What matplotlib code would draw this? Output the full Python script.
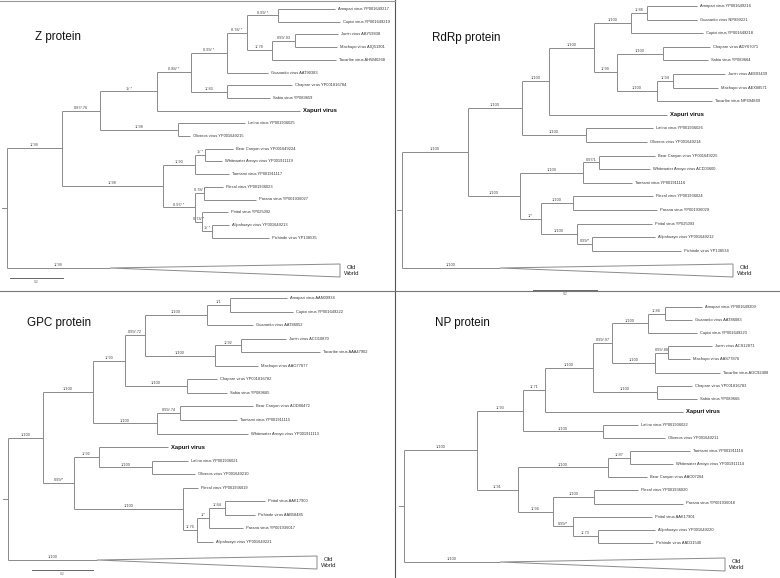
import matplotlib
matplotlib.use("Agg")
import matplotlib.pyplot as plt
from matplotlib.patches import Polygon

plt.rcParams['font.family'] = ['Liberation Sans', 'DejaVu Sans']

# trees in newick, branch lengths (pixel units)
z_newick = ("(((((((('Amapari virus YP001649217':57,'Cupixi virus YP001649219':62)'0.99/ *':31,"
            "(('Junin virus ABY59838':43,'Machupo virus AIQ51901':42)'0.99/.93':23,'Tacaribe virus AHW40268':64)'1/.78':25)'0.78/ *':20,"
            "'Guanarito virus AAT90383':41)'0.99/ *':36,"
            "('Chapare virus YP001816784':65,'Sabia virus YP089659':43)'1/.83':36)'0.88/ *':34,"
            "'Xapuri virus':143)'1/ *':57,"
            "('Latino virus YP001936025':67,'Oliveros virus YP001649215':12)'1/.98':78)'0.87/.76':38,"
            "((('Bear Canyon virus YP001649224':28,'Whitewater Arroyo virus YP001911119':17)'1/ *':10,'Tamiami virus YP001911117':34)'1/.90':32,"
            "(('Flexal virus YP001936023':19,'Parana virus YP001936027':52)'0.78/ *':9,"
            "('Pirital virus YP025092':26,('Allpahuayo virus YP001649213':17,'Pichinde virus YP138535':57)'1/ *':10)'0.73/ *':7)'0.97/ *':32)'1/.98':101)'1/.99':55,"
            "'Old World':103);")

rdrp_newick = ("((((((('Amapari virus YP001649216':50,'Guanarito virus NP899221':50)'1/.88':16,'Cupixi virus YP001649218':72)'1/100':37,"
               "(('Chapare virus ADY67071':47,'Sabia virus YP089664':45)'1/100':46,"
               "(('Junin virus AEE03439':52,'Machupo virus AEX08571':45)'1/.94':16,'Tacaribe virus NP694849':55)'1/100':40)'1/.99':23)'1/100':45,"
               "'Xapuri virus':118)'1/100':27,"
               "('Latino virus YP001936026':67,'Oliveros virus YP001649214':61)'1/100':64)'1/100':54,"
               "((('Bear Canyon virus YP001649225':56,'Whitewater Arroyo virus ACD03600':51)'0.97/1':16,'Tamiami virus YP001911116':49)'1/100':63,"
               "(('Flexal virus YP001936024':80,'Parana virus YP001936029':84)'1/100':32,"
               "('Pirital virus YP025093':75,('Allpahuayo virus YP001649212':63,'Pichinde virus YP138534':89)'0.99/*':15)'1/100':36)'1/*':21)'1/100':52)'1/100':66,"
               "'Old World':98);")

gpc_newick = ("((((((('Amapari virus AAN09934':57,'Cupixi virus YP001649222':63)'1/1':23,'Guanarito virus AAT86052':46)'1/100':62,"
              "(('Junin virus ACO10870':45,'Tacaribe virus AAA47902':79)'1/.92':26,'Machupo virus AAO77877':43)'1/100':70)'0.99/.72':20,"
              "('Chapare virus YP001816782':30,'Sabia virus YP089665':40)'1/100':62)'1/.93':32,"
              "(('Bear Canyon virus AOD88472':73,'Tamiami virus YP001911115':57)'0.99/.74':23,'Whitewater Arroyo virus YP001911113':91)'1/100':64)'1/100':50,"
              "(('Xapuri virus':69,('Latino virus YP001936021':36,'Oliveros virus YP001649210':43)'1/100':53)'1/.92':25,"
              "('Flexal virus YP001936019':15,((('Pirital virus AAK17900':40,'Pichinde virus AAB58485':30)'1/.84':16,"
              "'Parana virus YP001936017':34)'1/*':12,'Allpahuayo virus YP001649221':16)'1/.76':14)'1/100':109)'0.99/*':31)'1/100':35,"
              "'Old World':89);")

np_newick = ("(((((((('Amapari virus YP001649209':37,'Guanarito virus AAT86083':27)'1/.86':17,'Cupixi virus YP001649223':49)'1/100':36,"
             "(('Junin virus ACS12871':44,'Machupo virus AAS77876':22)'0.99/.88':13,'Tacaribe virus AGC92408':65)'1/100':43)'0.99/.97':19,"
             "('Chapare virus YP001816783':35,'Sabia virus YP089666':40)'1/100':64)'1/100':48,"
             "'Xapuri virus':138)'1/.71':22,"
             "('Latino virus YP001936022':35,'Oliveros virus YP001649211':62)'1/100':80)'1/.93':46,"
             "((('Tamiami virus YP001911116':60,'Whitewater Arroyo virus YP001911114':43)'1/.87':22,'Bear Canyon virus AAO07264':39)'1/100':90,"
             "(('Flexal virus YP001936020':44,'Parana virus YP001936018':89)'1/100':41,"
             "('Pirital virus AAK17901':79,('Allpahuayo virus YP001649220':57,'Pichinde virus AAD31540':55)'1/.73':25)'0.99/*':20)'1/.96':35)'1/.91':41)'1/100':73,"
             "'Old World':96);")

# collapsed Old World clade: support on stem, depth of triangle
z_old_world = ["1/.99", 230]
rdrp_old_world = ["1/100", 233]
gpc_old_world = ["1/100", 220]
np_old_world = ["1/100", 225]

# scale bars: length, label
z_scale = [53, "0.2"]
rdrp_scale = [64, "0.2"]
gpc_scale = [61, "0.2"]

titles = ["Z protein", "RdRp protein", "GPC protein", "NP protein"]


def parse_newick(s):
    pos = 0

    def read_label():
        nonlocal pos
        if s[pos] == "'":
            end = s.index("'", pos + 1)
            lab = s[pos + 1:end]
            pos = end + 1
            return lab
        start = pos
        while s[pos] not in ",():;":
            pos += 1
        return s[start:pos]

    def node():
        nonlocal pos
        n = {"children": [], "label": "", "length": 0.0}
        if s[pos] == "(":
            pos += 1
            while True:
                n["children"].append(node())
                if s[pos] == ",":
                    pos += 1
                else:
                    break
            pos += 1
        n["label"] = read_label()
        if s[pos] == ":":
            pos += 1
            start = pos
            while s[pos] not in ",();":
                pos += 1
            n["length"] = float(s[start:pos])
        return n

    return node()


LINE = "#8a8a8a"


def draw_tree(ax, newick, old_world, root_x, y0, dy, ow_y):
    tree = parse_newick(newick)
    count = [0]

    def layout(n, x):
        n["x"] = x + n["length"]
        if n["children"]:
            for c in n["children"]:
                layout(c, n["x"])
            n["y"] = (n["children"][0]["y"] + n["children"][-1]["y"]) / 2
        elif n["label"] == "Old World":
            n["y"] = ow_y
        else:
            n["y"] = y0 + count[0] * dy
            count[0] += 1

    layout(tree, root_x)

    def draw(n, px):
        if px is not None:
            ax.plot([px, n["x"]], [n["y"], n["y"]], color=LINE, lw=0.7, solid_capstyle="butt")
            sup = old_world[0] if n["label"] == "Old World" else (n["label"] if n["children"] else "")
            if sup:
                ax.text((px + n["x"]) / 2, n["y"] - 0.8, sup, fontsize=2.8, color="#444",
                        ha="center", va="bottom")
        if n["children"]:
            ax.plot([n["x"], n["x"]], [n["children"][0]["y"], n["children"][-1]["y"]],
                    color=LINE, lw=0.7, solid_capstyle="butt")
            for c in n["children"]:
                draw(c, n["x"])
        elif n["label"] == "Old World":
            xe = n["x"] + old_world[1]
            ax.add_patch(Polygon([[n["x"], n["y"]], [xe, n["y"] - 4], [xe, n["y"] + 9]],
                                 closed=True, fill=False, edgecolor=LINE, lw=0.7))
            ax.text(xe + 4, n["y"] + 2.5, "Old\nWorld", fontsize=4.3, color="#222",
                    ha="left", va="center", multialignment="center", linespacing=1.05)
        elif n["label"] == "Xapuri virus":
            ax.text(n["x"] + 3, n["y"], n["label"], fontsize=4.2, fontweight="bold",
                    color="#111", ha="left", va="center")
        else:
            ax.text(n["x"] + 3, n["y"], n["label"], fontsize=2.9, color="#333",
                    ha="left", va="center")

    draw(tree, None)
    # root tick
    ax.plot([root_x - 5, root_x], [tree["y"], tree["y"]], color=LINE, lw=0.7)


fig = plt.figure(figsize=(7.8, 5.78), dpi=100)
ax = fig.add_axes([0, 0, 1, 1])
ax.set_xlim(0, 780)
ax.set_ylim(578, 0)
ax.axis("off")

draw_tree(ax, z_newick, z_old_world, root_x=7, y0=9, dy=12.7, ow_y=268)
draw_tree(ax, rdrp_newick, rdrp_old_world, root_x=402, y0=6, dy=13.6, ow_y=268)
draw_tree(ax, gpc_newick, gpc_old_world, root_x=8, y0=298, dy=13.55, ow_y=560)
draw_tree(ax, np_newick, np_old_world, root_x=404, y0=307, dy=13.1, ow_y=562)

for (tx, ty), t in zip([(35, 37), (432, 38), (27, 323), (435, 323)], titles):
    ax.text(tx, ty, t, fontsize=8.4, color="#111", ha="left", va="center")

# scale bars
for (sx, sy), (length, lab) in zip([(10, 278), (533, 290), (32, 570)], [z_scale, rdrp_scale, gpc_scale]):
    ax.plot([sx, sx + length], [sy, sy], color="#666", lw=0.7)
    ax.text(sx + length / 2, sy + 2, lab, fontsize=2.4, color="#666", ha="center", va="top")

# panel frame
ax.plot([395, 395], [0, 578], color="#555", lw=0.8)
ax.plot([0, 780], [291, 291], color="#777", lw=0.8)
ax.plot([0, 395], [1, 1], color="#999", lw=0.8)

fig.savefig("out.png", dpi=100)
